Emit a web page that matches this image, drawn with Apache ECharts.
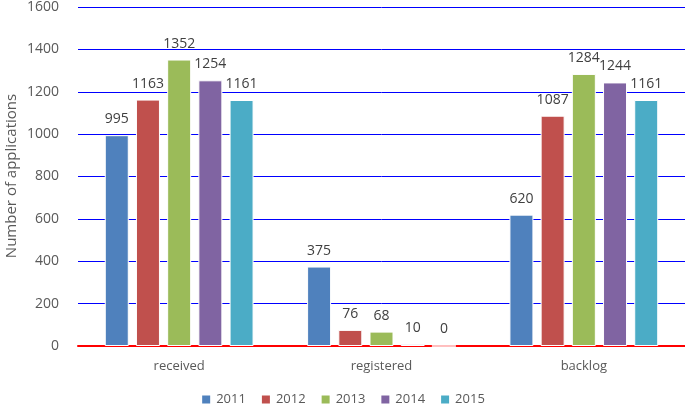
<!DOCTYPE html>
<html>
<head>
<meta charset="utf-8">
<script src="https://cdn.jsdelivr.net/npm/echarts@6/dist/echarts.min.js"></script>
<style>
  html, body { margin: 0; padding: 0; background: #fff; }
  #chart { width: 685px; height: 413px; }
</style>
</head>
<body>
<div id="chart"></div>
<script>
// 数据
var categories = ['received', 'registered', 'backlog']
var years = ['2011', '2012', '2013', '2014', '2015']
var values2011 = [995, 375, 620]
var values2012 = [1163, 76, 1087]
var values2013 = [1352, 68, 1284]
var values2014 = [1254, 10, 1244]
var values2015 = [1161, 0, 1161]
var yTicks = [0, 200, 400, 600, 800, 1000, 1200, 1400, 1600]
var yTitle = 'Number of applications'

var colors = ['#4f81bd', '#c0504d', '#9bbb59', '#8064a2', '#4bacc6']
var allValues = [values2011, values2012, values2013, values2014, values2015]
var FONT = '"Open Sans", "Noto Sans", sans-serif'

var chart = echarts.init(document.getElementById('chart'))
var series = years.map(function(y, i) {
  return {
    name: y,
    type: 'bar',
    data: allValues[i],
    barWidth: 24,
    barGap: '30%',
    itemStyle: { color: colors[i], borderColor: '#fff', borderWidth: 1 },
    label: {
      show: true,
      position: 'top',
      distance: 9,
      color: '#404040',
      fontSize: 14,
      fontFamily: FONT
    }
  }
})

chart.setOption({
  animation: false,
  legend: {
    data: years,
    bottom: 2,
    left: 'center',
    itemWidth: 10,
    itemHeight: 10,
    itemGap: 14,
    icon: 'rect',
    textStyle: { color: '#595959', fontSize: 13, fontFamily: FONT }
  },
  graphic: [{
    type: 'text',
    x: 12,
    y: 176,
    rotation: Math.PI / 2,
    style: {
      text: yTitle,
      fill: '#595959',
      font: '15px ' + FONT,
      align: 'center',
      verticalAlign: 'middle'
    }
  }],
  grid: { left: 78, right: 0, top: 7, bottom: 67, outerBoundsMode: 'none' },
  xAxis: {
    type: 'category',
    data: categories,
    axisLine: { lineStyle: { color: 'red', width: 2 } },
    axisTick: { show: false },
    splitLine: { show: false },
    axisLabel: { color: '#595959', fontSize: 13, fontFamily: FONT, margin: 14 }
  },
  yAxis: {
    type: 'value',
    min: yTicks[0],
    max: yTicks[yTicks.length - 1],
    interval: 200,
    axisLine: { show: false },
    splitLine: { lineStyle: { color: 'blue' } },
    axisLabel: {
      color: '#595959',
      fontSize: 14,
      fontFamily: FONT,
      margin: 19,
      formatter: function(v) { return String(v) }
    }
  },
  series: series
})
</script>
</body>
</html>
